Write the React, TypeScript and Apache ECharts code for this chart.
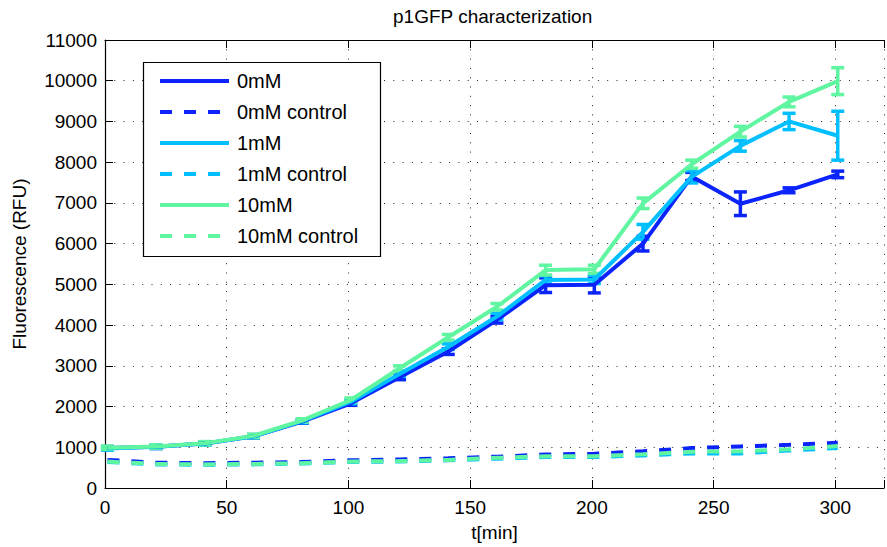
import React, { useEffect, useRef } from "react";
import * as echarts from "echarts";

const times = [1, 21, 41, 61, 81, 101, 121, 141, 161, 181, 201, 221, 241, 261, 281, 301];

const mean0 = [980, 1010, 1090, 1270, 1630, 2080, 2720, 3350, 4130, 4980, 4990, 6000, 7650, 6980, 7310, 7700];
const err0 = [40, 40, 40, 40, 40, 50, 60, 70, 80, 180, 200, 180, 100, 290, 60, 80];
const mean1 = [970, 1010, 1090, 1270, 1640, 2120, 2800, 3470, 4210, 5110, 5120, 6290, 7640, 8400, 9000, 8650];
const err1 = [40, 40, 40, 40, 40, 50, 60, 70, 80, 100, 100, 180, 150, 130, 200, 600];
const mean10 = [990, 1020, 1100, 1280, 1660, 2160, 2940, 3700, 4450, 5350, 5370, 6990, 7950, 8750, 9480, 9990];
const err10 = [40, 40, 40, 40, 40, 50, 60, 70, 80, 120, 100, 130, 100, 130, 120, 330];

const ctrl0 = [690, 620, 610, 620, 640, 680, 700, 730, 770, 820, 840, 900, 980, 1020, 1060, 1110];
const ctrl1 = [640, 580, 570, 580, 600, 640, 650, 680, 720, 760, 760, 800, 850, 850, 920, 980];
const ctrl10 = [650, 590, 580, 590, 610, 650, 660, 690, 740, 780, 780, 830, 890, 900, 950, 1030];

const names = ["0mM", "0mM control", "1mM", "1mM control", "10mM", "10mM control"];
const colors = ["#0b24fb", "#00bfff", "#60f5a0"];

const xTicksMax = 300;
const FONT = "Liberation Sans, Arial, Helvetica, sans-serif";

function pairs(ys: number[]) {
  return times.map((t, i) => [t, ys[i]]);
}
function errData(ys: number[], es: number[]) {
  return times.map((t, i) => [t, ys[i] - es[i], ys[i] + es[i]]);
}

function lineSeries(name: string, ys: number[], color: string, dashed: boolean) {
  return {
    type: "line",
    name,
    data: pairs(ys),
    symbol: "none",
    showSymbol: false,
    lineStyle: { color, width: 4, type: dashed ? [12, 12] : "solid" },
    itemStyle: { color },
    z: 2,
  };
}

function errSeries(name: string, ys: number[], es: number[], color: string) {
  return {
    type: "custom",
    name,
    data: errData(ys, es),
    encode: { x: 0, y: [1, 2] },
    z: 2,
    renderItem: (params: any, api: any) => {
      const x = api.value(0);
      const lo = api.coord([x, api.value(1)]);
      const hi = api.coord([x, api.value(2)]);
      const hw = 6.5;
      const style = { stroke: color, lineWidth: 3.5 };
      return {
        type: "group",
        children: [
          { type: "line", shape: { x1: lo[0], y1: lo[1], x2: hi[0], y2: hi[1] }, style },
          { type: "line", shape: { x1: lo[0] - hw, y1: lo[1], x2: lo[0] + hw, y2: lo[1] }, style },
          { type: "line", shape: { x1: hi[0] - hw, y1: hi[1], x2: hi[0] + hw, y2: hi[1] }, style },
        ],
      };
    },
  };
}

export default function App() {
  const ref = useRef<HTMLDivElement>(null);
  useEffect(() => {
    document.body.style.margin = "0";
    const chart = echarts.init(ref.current!, null, { renderer: "svg" });
    const option: any = {
      animation: false,
      backgroundColor: "#ffffff",
      textStyle: { fontFamily: FONT },
      title: {
        text: "p1GFP characterization",
        left: 393,
        top: 7,
        padding: 0,
        textStyle: { fontFamily: FONT, fontSize: 19, fontWeight: "normal", color: "#000" },
      },
      graphic: [
        {
          type: "rect",
          z: 3,
          shape: { x: 143.5, y: 62.5, width: 237, height: 194 },
          style: { fill: "#fff", stroke: "#000", lineWidth: 1.2 },
        },
      ],
      legend: {
        data: names,
        orient: "vertical",
        left: 158,
        top: 71,
        padding: 0,
        itemWidth: 69,
        itemHeight: 20,
        itemGap: 11,
        z: 5,
        itemStyle: { opacity: 0, borderWidth: 0 },
        lineStyle: { width: 4 },
        textStyle: { fontFamily: FONT, fontSize: 20, color: "#000", lineHeight: 20, padding: [0, 0, 0, 3] },
      },
      grid: { left: 105, top: 40, width: 792, height: 448, containLabel: false },
      xAxis: [
        {
          type: "value",
          min: 0,
          max: 320,
          interval: 50,
          name: "t[min]",
          nameLocation: "middle",
          nameGap: 35,
          nameTextStyle: { fontFamily: FONT, fontSize: 19, color: "#000" },
          axisLine: { show: true, lineStyle: { color: "#000", width: 1.2 } },
          axisTick: { show: true, inside: true, length: 8, lineStyle: { color: "#000" } },
          axisLabel: {
            margin: 10,
            fontFamily: FONT,
            fontSize: 19,
            color: "#000",
            formatter: (v: number) => (v > xTicksMax ? "" : String(v)),
          },
          splitLine: { show: true, lineStyle: { color: "#222", width: 1, type: [1, 8.3] } },
        },
        {
          type: "value",
          position: "top",
          min: 0,
          max: 320,
          interval: 50,
          axisLine: { show: true, onZero: false, lineStyle: { color: "#000", width: 1.2 } },
          axisTick: { show: true, inside: true, length: 8, lineStyle: { color: "#000" } },
          axisLabel: { show: false },
          splitLine: { show: false },
        },
      ],
      yAxis: {
        type: "value",
        min: 0,
        max: 11000,
        interval: 1000,
        name: "Fluorescence (RFU)",
        nameLocation: "middle",
        nameGap: 76,
        nameTextStyle: { fontFamily: FONT, fontSize: 19, color: "#000" },
        axisLine: { show: true, lineStyle: { color: "#000", width: 1.2 } },
        axisTick: { show: true, inside: true, length: 8, lineStyle: { color: "#000" } },
        axisLabel: {
          margin: 8,
          fontFamily: FONT,
          fontSize: 19,
          color: "#000",
          formatter: (v: number) => String(v),
        },
        splitLine: { show: true, lineStyle: { color: "#222", width: 1, type: [1, 8.3] } },
      },
      series: [
        lineSeries(names[0], mean0, colors[0], false),
        errSeries("0mM err", mean0, err0, colors[0]),
        lineSeries(names[1], ctrl0, colors[0], true),
        lineSeries(names[2], mean1, colors[1], false),
        errSeries("1mM err", mean1, err1, colors[1]),
        lineSeries(names[3], ctrl1, colors[1], true),
        lineSeries(names[4], mean10, colors[2], false),
        errSeries("10mM err", mean10, err10, colors[2]),
        lineSeries(names[5], ctrl10, colors[2], true),
      ],
    };
    chart.setOption(option);
    return () => chart.dispose();
  }, []);
  return <div ref={ref} style={{ width: 887, height: 547 }} />;
}
